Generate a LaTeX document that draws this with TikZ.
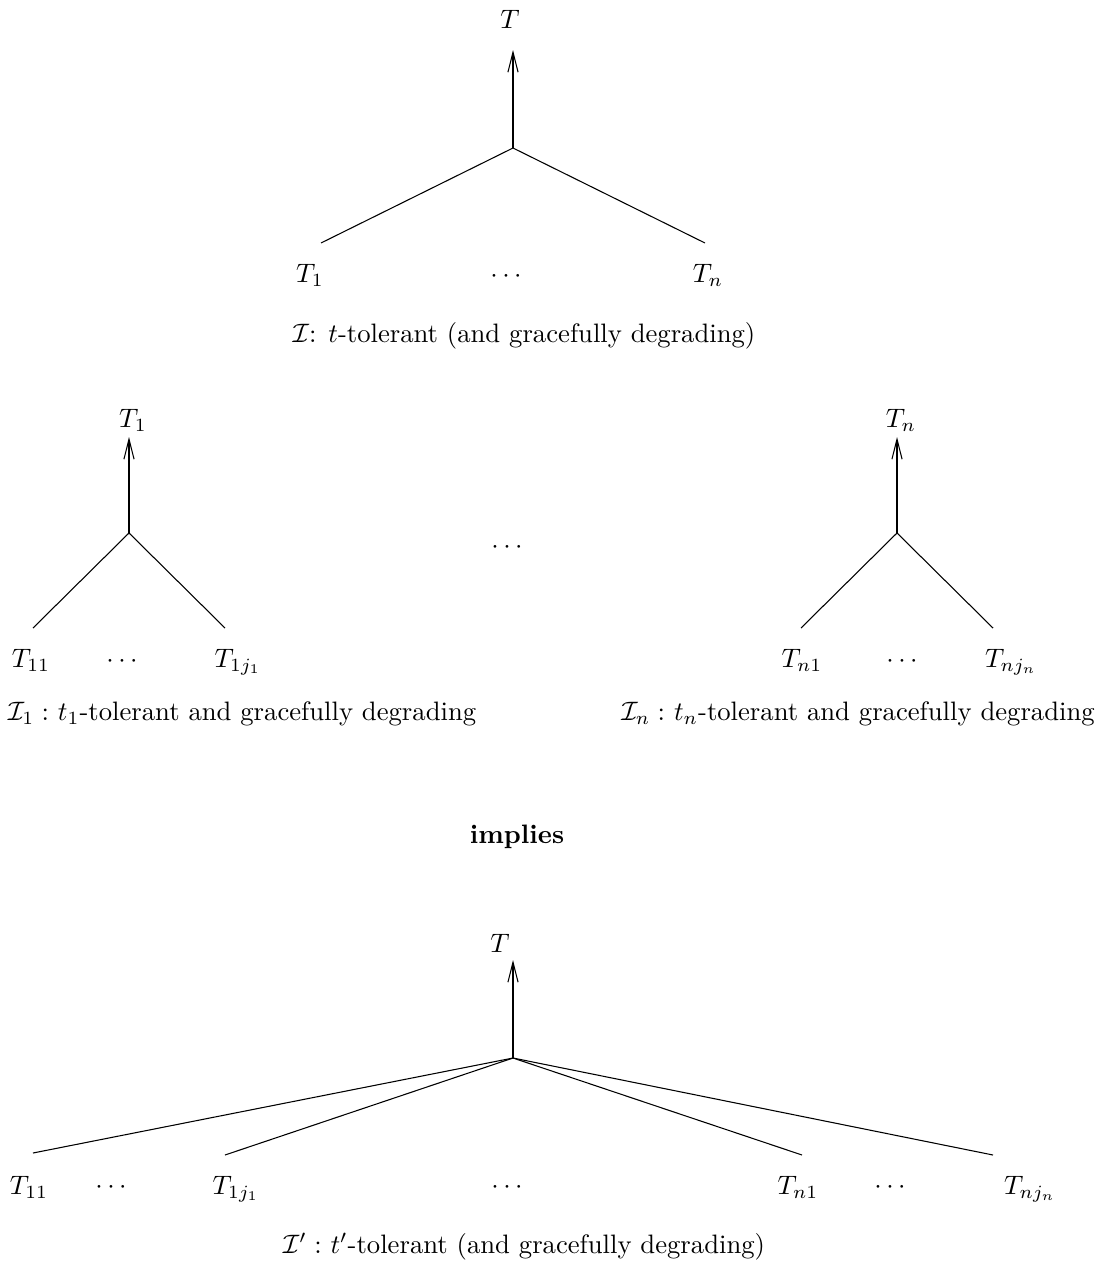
\documentclass[tikz,border=0pt]{standalone}
\usetikzlibrary{arrows.meta}
\begin{document}
\begin{tikzpicture}[x=0.375pt,y=-0.375pt,
  lbl/.style={inner sep=0pt, anchor=base},
  edge/.style={line width=0.4pt},
  up/.style={line width=0.4pt, -{Straight Barb[length=7.5pt,width=3.8pt,line width=0.4pt]}}]
\useasboundingbox (0,0) rectangle (1106,1264);

% ---------- top tree ----------
\node[lbl] (T) at (510,28) {$T$};
\coordinate (jA) at (513,148);
\coordinate (tA) at (513,50);
\coordinate (eA1) at (321,243);
\coordinate (eA2) at (705,243);
\node[lbl] (A1) at (310,282) {$T_1$};
\node[lbl] (Ad) at (506,282) {$\cdots$};
\node[lbl] (An) at (708,282) {$T_n$};
\node[lbl] (capA) at (524,342) {$\mathcal{I}$: $t$-tolerant (and gracefully degrading)};
\draw[up] (jA) -- (tA);
\draw[edge] (jA) -- (eA1);
\draw[edge] (jA) -- (eA2);

% ---------- middle left tree ----------
\node[lbl] (B) at (133,427) {$T_1$};
\coordinate (jB) at (129,533);
\coordinate (tB) at (129,437);
\coordinate (eB1) at (33,628);
\coordinate (eB2) at (225,628);
\node[lbl] (B1) at (31,667) {$T_{11}$};
\node[lbl] (Bd) at (122,667) {$\cdots$};
\node[lbl] (B2) at (238,667) {$T_{1j_1}$};
\node[lbl] (capB) at (242,720) {$\mathcal{I}_1:$ $t_1$-tolerant and gracefully degrading};
\draw[up] (jB) -- (tB);
\draw[edge] (jB) -- (eB1);
\draw[edge] (jB) -- (eB2);

% ---------- middle dots ----------
\node[lbl] (Md) at (507,553) {$\cdots$};

% ---------- middle right tree ----------
\node[lbl] (C) at (901,427) {$T_n$};
\coordinate (jC) at (897,533);
\coordinate (tC) at (897,437);
\coordinate (eC1) at (801,628);
\coordinate (eC2) at (993,628);
\node[lbl] (C1) at (802,667) {$T_{n1}$};
\node[lbl] (Cd) at (902,667) {$\cdots$};
\node[lbl] (C2) at (1011,667) {$T_{nj_n}$};
\node[lbl] (capC) at (858,720) {$\mathcal{I}_n:$ $t_n$-tolerant and gracefully degrading};
\draw[up] (jC) -- (tC);
\draw[edge] (jC) -- (eC1);
\draw[edge] (jC) -- (eC2);

% ---------- implies ----------
\node[lbl] (imp) at (517,843) {\textbf{implies}};

% ---------- bottom tree ----------
\node[lbl] (D) at (500,952) {$T$};
\coordinate (jD) at (513,1058);
\coordinate (tD) at (513,960);
\coordinate (eD1) at (33,1153);
\coordinate (eD2) at (225,1155);
\coordinate (eD3) at (802,1155);
\coordinate (eD4) at (993,1155);
\node[lbl] (D1) at (29,1194) {$T_{11}$};
\node[lbl] (Dd1) at (111,1193) {$\cdots$};
\node[lbl] (D2) at (236,1194) {$T_{1j_1}$};
\node[lbl] (Dd2) at (507,1193) {$\cdots$};
\node[lbl] (D3) at (798,1194) {$T_{n1}$};
\node[lbl] (Dd3) at (890,1193) {$\cdots$};
\node[lbl] (D4) at (1030,1194) {$T_{nj_n}$};
\node[lbl] (capD) at (524,1253) {$\mathcal{I}':$ $t'$-tolerant (and gracefully degrading)};
\draw[up] (jD) -- (tD);
\draw[edge] (jD) -- (eD1);
\draw[edge] (jD) -- (eD2);
\draw[edge] (jD) -- (eD3);
\draw[edge] (jD) -- (eD4);
\end{tikzpicture}
\end{document}
